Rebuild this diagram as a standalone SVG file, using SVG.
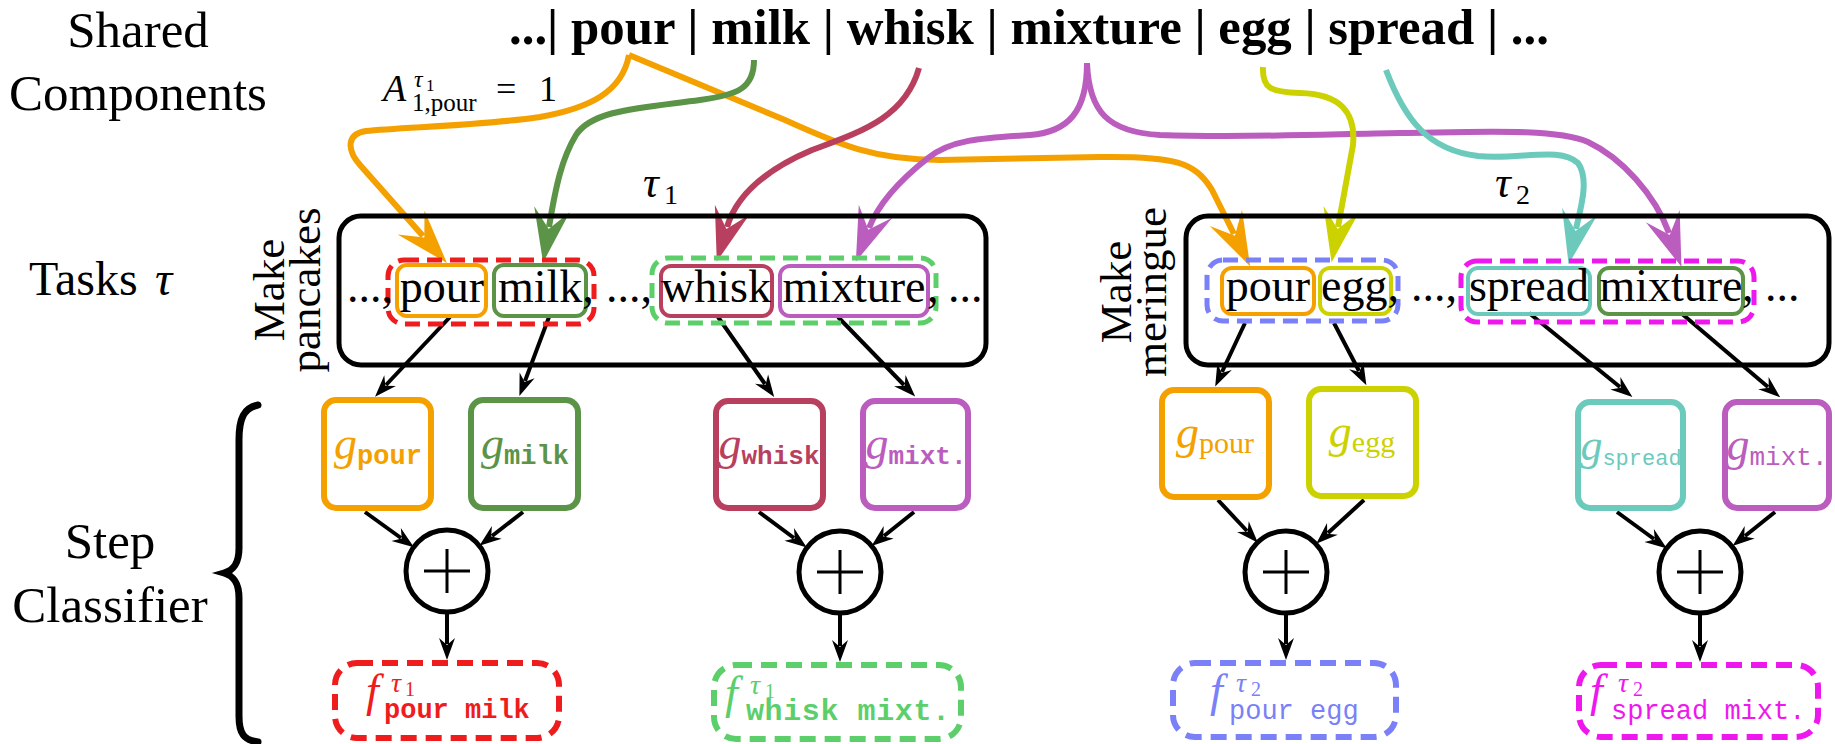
<svg xmlns="http://www.w3.org/2000/svg" width="1835" height="744" viewBox="0 0 1835 744">
<defs>
<style>
.serif{font-family:"Liberation Serif","Times New Roman",serif}
.mono{font-family:"Liberation Mono","Courier New",monospace}
.it{font-style:italic}
.task{fill:none;stroke:#000;stroke-width:5}
.tok{fill:none;stroke-width:4}
.grp{fill:none;stroke-width:5;stroke-dasharray:15 8}
.gbox{fill:#fff;stroke-width:6}
.fbox{fill:#fff;stroke-width:6;stroke-dasharray:16 9}
.sum{fill:#fff;stroke:#000;stroke-width:5}
.plus{stroke:#000;stroke-width:3}
.link{fill:none;stroke-width:6}
.flow{fill:none;stroke:#000;stroke-width:4;marker-end:url(#ah-black)}
</style>
<marker id="ah-black" viewBox="-24 -10 26 20" refX="-16" refY="0" markerWidth="26" markerHeight="20" markerUnits="userSpaceOnUse" orient="auto"><path d="M0,0 L-22,-8 L-15,0 L-22,8 Z" fill="#000"/></marker>
<marker id="ah-orange" viewBox="-56 -20 58 40" refX="-36" refY="0" markerWidth="58" markerHeight="40" markerUnits="userSpaceOnUse" orient="auto"><path d="M0,0 L-54,-18 L-34,0 L-54,18 Z" fill="#f4a100"/></marker>
<marker id="ah-green" viewBox="-56 -20 58 40" refX="-36" refY="0" markerWidth="58" markerHeight="40" markerUnits="userSpaceOnUse" orient="auto"><path d="M0,0 L-54,-18 L-34,0 L-54,18 Z" fill="#5b9447"/></marker>
<marker id="ah-crimson" viewBox="-56 -20 58 40" refX="-36" refY="0" markerWidth="58" markerHeight="40" markerUnits="userSpaceOnUse" orient="auto"><path d="M0,0 L-54,-18 L-34,0 L-54,18 Z" fill="#b8405e"/></marker>
<marker id="ah-purple" viewBox="-56 -20 58 40" refX="-36" refY="0" markerWidth="58" markerHeight="40" markerUnits="userSpaceOnUse" orient="auto"><path d="M0,0 L-54,-18 L-34,0 L-54,18 Z" fill="#bb5cbf"/></marker>
<marker id="ah-yellow" viewBox="-56 -20 58 40" refX="-36" refY="0" markerWidth="58" markerHeight="40" markerUnits="userSpaceOnUse" orient="auto"><path d="M0,0 L-54,-18 L-34,0 L-54,18 Z" fill="#ccd200"/></marker>
<marker id="ah-teal" viewBox="-56 -20 58 40" refX="-36" refY="0" markerWidth="58" markerHeight="40" markerUnits="userSpaceOnUse" orient="auto"><path d="M0,0 L-54,-18 L-34,0 L-54,18 Z" fill="#6ccabd"/></marker>
</defs>

<rect width="1835" height="744" fill="#fff"/>

<!-- row labels -->
<g id="row-labels" class="serif" fill="#000">
  <text x="138" y="47" font-size="51" text-anchor="middle">Shared</text>
  <text x="138" y="110" font-size="51" text-anchor="middle">Components</text>
  <text x="29" y="295" font-size="48">Tasks <tspan x="155" class="it">τ</tspan></text>
  <text x="110" y="558" font-size="51" text-anchor="middle">Step</text>
  <text x="110" y="622" font-size="51" text-anchor="middle">Classifier</text>
  <path d="M258,405 C244,408 239,418 239,440 L239,548 C239,563 234,570 224,573 C234,576 239,583 239,598 L239,716 C239,734 244,740 258,742" fill="none" stroke="#000" stroke-width="7" stroke-linecap="round"/>
</g>

<!-- shared component vocabulary -->
<g id="components">
  <text class="serif" x="509" y="44" font-size="50" font-weight="bold" textLength="1040" lengthAdjust="spacingAndGlyphs">...| pour | milk | whisk | mixture | egg | spread | ...</text>
</g>

<!-- connectors -->
<g id="connectors">
  <path class="link" stroke="#f4a100" marker-end="url(#ah-orange)" d="M629,55 C622,92 590,108 540,117 C480,126 400,127 366,131 C346,134 347,150 360,165 L423,236"/>
  <path class="link" stroke="#f4a100" marker-end="url(#ah-orange)" d="M629,55 L785,120 C840,145 875,160 940,160 L1100,157 C1175,156 1195,162 1212,190 L1234,234"/>
  <path class="link" stroke="#5b9447" marker-end="url(#ah-green)" d="M754,60 C754,88 738,95 700,100 C640,108 592,110 576,135 C562,158 556,185 549,227"/>
  <path class="link" stroke="#b8405e" marker-end="url(#ah-crimson)" d="M919,68 C905,118 860,132 812,150 C760,172 735,200 727,227"/>
  <path class="link" stroke="#bb5cbf" marker-end="url(#ah-purple)" d="M1087,63 C1087,112 1068,132 1030,135 C980,138 950,140 928,158 C900,180 878,205 869,228"/>
  <path class="link" stroke="#bb5cbf" marker-end="url(#ah-purple)" d="M1087,63 C1089,112 1108,132 1160,135 C1250,138 1330,134 1400,133 C1480,132 1555,128 1588,142 C1622,158 1655,195 1669,233"/>
  <path class="link" stroke="#ccd200" marker-end="url(#ah-yellow)" d="M1263,67 C1262,88 1270,92 1300,93 C1340,94 1356,112 1353,145 L1338,227"/>
  <path class="link" stroke="#6ccabd" marker-end="url(#ah-teal)" d="M1386,70 C1405,120 1428,150 1478,156 C1520,160 1560,146 1578,163 C1590,180 1580,210 1576,229"/>

  <!-- tokens to step classifiers -->
  <path class="flow" d="M450,317 L386,385"/>
  <path class="flow" d="M549,317 L525,381"/>
  <path class="flow" d="M718,317 L765,384"/>
  <path class="flow" d="M838,317 L904,385"/>
  <path class="flow" d="M1245,323 L1222,372"/>
  <path class="flow" d="M1334,323 L1359,371"/>
  <path class="flow" d="M1529,313 L1620,387"/>
  <path class="flow" d="M1681,313 L1768,387"/>

  <!-- classifiers to sums -->
  <path class="flow" d="M365,512 L401,538"/>
  <path class="flow" d="M523,512 L492,536"/>
  <path class="flow" d="M759,512 L794,538"/>
  <path class="flow" d="M914,512 L884,536"/>
  <path class="flow" d="M1218,500 L1247,531"/>
  <path class="flow" d="M1364,500 L1328,533"/>
  <path class="flow" d="M1617,512 L1654,539"/>
  <path class="flow" d="M1775,512 L1745,536"/>

  <!-- sums to task step outputs -->
  <path class="flow" d="M447,613 L447,644"/>
  <path class="flow" d="M840,614 L840,646"/>
  <path class="flow" d="M1286,614 L1286,644"/>
  <path class="flow" d="M1700,614 L1700,646"/>

  <text class="serif" x="383" y="101" font-size="38"><tspan class="it">A</tspan><tspan x="414" y="87" class="it" font-size="24">τ</tspan><tspan x="426" y="91" font-size="17">1</tspan><tspan x="412" y="111" font-size="25">1,pour</tspan><tspan x="496" y="101" font-size="36">=</tspan><tspan x="539" y="101" font-size="36">1</tspan></text>
</g>

<!-- task: make pancakes -->
<g id="task-pancakes">
  <rect class="task" x="339" y="216" width="647" height="149" rx="22"/>
  <text class="serif" font-size="45" text-anchor="middle" transform="translate(284,290) rotate(-90)">Make</text>
  <text class="serif" font-size="45" text-anchor="middle" transform="translate(320,290) rotate(-90)">pancakes</text>
  <text class="serif" x="643" y="197" font-size="44"><tspan class="it">τ</tspan><tspan x="664" y="204" font-size="28">1</tspan></text>
  <rect class="grp" stroke="#ee1c1c" x="388" y="260" width="206" height="64" rx="16"/>
  <rect class="grp" stroke="#5ccf6a" x="652" y="258" width="284" height="65" rx="16"/>
  <rect class="tok" stroke="#f4a100" x="397" y="265" width="89" height="51" rx="10"/>
  <rect class="tok" stroke="#5b9447" x="494" y="265" width="92" height="51" rx="10"/>
  <rect class="tok" stroke="#b8405e" x="661" y="266" width="111" height="50" rx="10"/>
  <rect class="tok" stroke="#bb5cbf" x="780" y="266" width="148" height="50" rx="10"/>
  <g class="serif" font-size="46">
    <text x="347" y="302">...,</text>
    <text x="442" y="302" text-anchor="middle">pour</text>
    <text x="498" y="302">milk,</text>
    <text x="606" y="302">...,</text>
    <text x="716" y="302" text-anchor="middle">whisk</text>
    <text x="854" y="302" text-anchor="middle">mixture</text>
    <text x="927" y="302">,</text>
    <text x="948" y="302">...</text>
  </g>
</g>

<!-- task: make meringue -->
<g id="task-meringue">
  <rect class="task" x="1186" y="216" width="643" height="149" rx="22"/>
  <text class="serif" font-size="45" text-anchor="middle" transform="translate(1131,292) rotate(-90)">Make</text>
  <text class="serif" font-size="45" text-anchor="middle" transform="translate(1166,292) rotate(-90)">meringue</text>
  <text class="serif" x="1495" y="197" font-size="44"><tspan class="it">τ</tspan><tspan x="1516" y="204" font-size="28">2</tspan></text>
  <rect class="grp" stroke="#7a80f7" x="1207" y="260" width="191" height="61" rx="16"/>
  <rect class="grp" stroke="#ee18ee" x="1461" y="261" width="293" height="61" rx="16"/>
  <rect class="tok" stroke="#f4a100" x="1222" y="268" width="92" height="46" rx="10"/>
  <rect class="tok" stroke="#ccd200" x="1320" y="268" width="71" height="46" rx="10"/>
  <rect class="tok" stroke="#6ccabd" x="1468" y="268" width="122" height="46" rx="10"/>
  <rect class="tok" stroke="#5b9447" x="1599" y="268" width="144" height="46" rx="10"/>
  <g class="serif" font-size="46">
    <text x="1268" y="301" text-anchor="middle">pour</text>
    <text x="1321" y="301">egg,</text>
    <text x="1411" y="301">...,</text>
    <text x="1529" y="301" text-anchor="middle">spread</text>
    <text x="1671" y="301" text-anchor="middle">mixture</text>
    <text x="1742" y="301">,</text>
    <text x="1765" y="301">...</text>
  </g>
</g>

<!-- step classifiers -->
<g id="g-pour-1">
  <rect class="gbox" stroke="#f4a100" x="324" y="400" width="107" height="108" rx="12"/>
  <text x="378" y="459" text-anchor="middle" fill="#f4a100"><tspan class="serif it" font-size="46">g</tspan><tspan class="mono" font-weight="bold" font-size="27" dy="5">pour</tspan></text>
</g>
<g id="g-milk">
  <rect class="gbox" stroke="#5b9447" x="471" y="400" width="107" height="108" rx="12"/>
  <text x="525" y="459" text-anchor="middle" fill="#5b9447"><tspan class="serif it" font-size="46">g</tspan><tspan class="mono" font-weight="bold" font-size="27" dy="5">milk</tspan></text>
</g>
<g id="g-whisk">
  <rect class="gbox" stroke="#b8405e" x="716" y="401" width="107" height="107" rx="12"/>
  <text x="769" y="459" text-anchor="middle" fill="#b8405e"><tspan class="serif it" font-size="46">g</tspan><tspan class="mono" font-weight="bold" font-size="26" dy="5">whisk</tspan></text>
</g>
<g id="g-mixt-1">
  <rect class="gbox" stroke="#bb5cbf" x="863" y="401" width="105" height="107" rx="12"/>
  <text x="916" y="459" text-anchor="middle" fill="#bb5cbf"><tspan class="serif it" font-size="46">g</tspan><tspan class="mono" font-weight="bold" font-size="26" dy="5">mixt.</tspan></text>
</g>
<g id="g-pour-2">
  <rect class="gbox" stroke="#f4a100" x="1162" y="390" width="107" height="107" rx="12"/>
  <text x="1215" y="448" text-anchor="middle" fill="#f4a100"><tspan class="serif it" font-size="46">g</tspan><tspan class="serif" font-size="30" dy="5">pour</tspan></text>
</g>
<g id="g-egg">
  <rect class="gbox" stroke="#ccd200" x="1309" y="389" width="107" height="107" rx="12"/>
  <text x="1362" y="447" text-anchor="middle" fill="#ccd200"><tspan class="serif it" font-size="46">g</tspan><tspan class="serif" font-size="30" dy="5">egg</tspan></text>
</g>
<g id="g-spread">
  <rect class="gbox" stroke="#6ccabd" x="1578" y="402" width="105" height="106" rx="12"/>
  <text x="1631" y="460" text-anchor="middle" fill="#6ccabd"><tspan class="serif it" font-size="44">g</tspan><tspan class="mono" font-size="22" dy="5">spread</tspan></text>
</g>
<g id="g-mixt-2">
  <rect class="gbox" stroke="#bb5cbf" x="1725" y="402" width="104" height="106" rx="12"/>
  <text x="1777" y="460" text-anchor="middle" fill="#bb5cbf"><tspan class="serif it" font-size="46">g</tspan><tspan class="mono" font-size="26" dy="5">mixt.</tspan></text>
</g>

<!-- sums -->
<g id="sum-1"><circle class="sum" cx="447" cy="571" r="41"/><path class="plus" d="M424,571 H470 M447,549 V593"/></g>
<g id="sum-2"><circle class="sum" cx="840" cy="572" r="41"/><path class="plus" d="M817,572 H863 M840,550 V594"/></g>
<g id="sum-3"><circle class="sum" cx="1286" cy="572" r="41"/><path class="plus" d="M1263,572 H1309 M1286,550 V594"/></g>
<g id="sum-4"><circle class="sum" cx="1700" cy="572" r="41"/><path class="plus" d="M1677,572 H1723 M1700,550 V594"/></g>

<!-- task-specific step outputs -->
<g id="f-pour-milk">
  <rect class="fbox" stroke="#ee1c1c" x="335" y="663" width="224" height="75" rx="22"/>
  <text class="serif" fill="#ee1c1c"><tspan x="366" y="706" class="it" font-size="46">f</tspan><tspan x="391" y="692" class="it" font-size="28">τ</tspan><tspan x="405" y="696" font-size="20">1</tspan><tspan x="384" y="718" class="mono" font-weight="bold" font-size="27">pour milk</tspan></text>
</g>
<g id="f-whisk-mixt">
  <rect class="fbox" stroke="#5ccf6a" x="714" y="665" width="247" height="74" rx="22"/>
  <text class="serif" fill="#5ccf6a"><tspan x="725" y="708" class="it" font-size="46">f</tspan><tspan x="750" y="694" class="it" font-size="28">τ</tspan><tspan x="765" y="698" font-size="20">1</tspan><tspan x="746" y="720" class="mono" font-weight="bold" font-size="30" textLength="204">whisk mixt.</tspan></text>
</g>
<g id="f-pour-egg">
  <rect class="fbox" stroke="#7a80f7" x="1173" y="663" width="223" height="74" rx="22"/>
  <text class="serif" fill="#7a80f7"><tspan x="1210" y="706" class="it" font-size="46">f</tspan><tspan x="1236" y="692" class="it" font-size="28">τ</tspan><tspan x="1251" y="696" font-size="20">2</tspan><tspan x="1229" y="719" class="mono" font-size="27">pour egg</tspan></text>
</g>
<g id="f-spread-mixt">
  <rect class="fbox" stroke="#ee18ee" x="1579" y="665" width="239" height="72" rx="22"/>
  <text class="serif" fill="#ee18ee"><tspan x="1590" y="706" class="it" font-size="46">f</tspan><tspan x="1618" y="692" class="it" font-size="28">τ</tspan><tspan x="1633" y="696" font-size="20">2</tspan><tspan x="1611" y="719" class="mono" font-size="27">spread mixt.</tspan></text>
</g>
</svg>
